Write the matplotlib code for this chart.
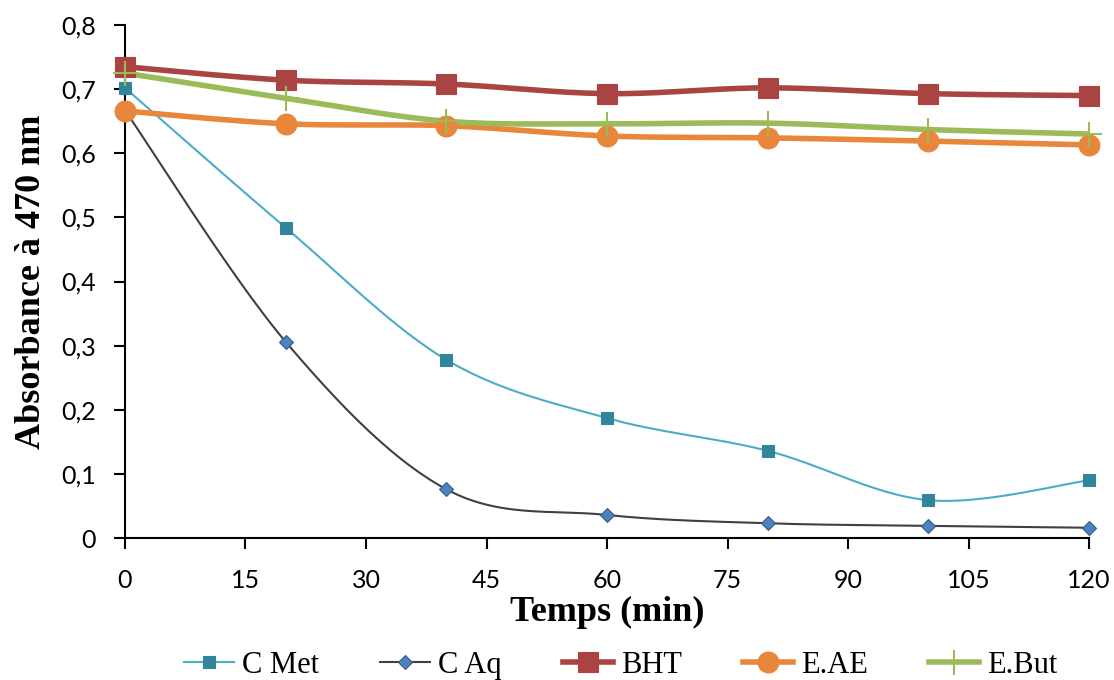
import numpy as np
import matplotlib.pyplot as plt
from matplotlib.ticker import FuncFormatter, MultipleLocator

temps = [0, 20, 40, 60, 80, 100, 120]
c_met = [0.702, 0.484, 0.278, 0.187, 0.136, 0.059, 0.090]
c_aq = [0.667, 0.306, 0.076, 0.036, 0.023, 0.019, 0.016]
bht = [0.735, 0.714, 0.708, 0.693, 0.702, 0.693, 0.690]
e_ae = [0.666, 0.646, 0.643, 0.627, 0.624, 0.619, 0.613]
e_but = [0.725, 0.686, 0.650, 0.646, 0.647, 0.637, 0.630]


def smooth(x, y, n=30):
    # Excel-like smoothed line (Bezier through points, Catmull-Rom tangents)
    x = np.asarray(x, float)
    y = np.asarray(y, float)
    px = np.concatenate([[x[0]], x, [x[-1]]])
    py = np.concatenate([[y[0]], y, [y[-1]]])
    xs, ys = [], []
    t = np.linspace(0, 1, n)
    for i in range(1, len(px) - 2):
        p0 = np.array([px[i], py[i]])
        p3 = np.array([px[i + 1], py[i + 1]])
        c1 = p0 + (np.array([px[i + 1], py[i + 1]]) - np.array([px[i - 1], py[i - 1]])) / 6
        c2 = p3 - (np.array([px[i + 2], py[i + 2]]) - np.array([px[i], py[i]])) / 6
        b = ((1 - t) ** 3)[:, None] * p0 + (3 * (1 - t) ** 2 * t)[:, None] * c1 \
            + (3 * (1 - t) * t ** 2)[:, None] * c2 + (t ** 3)[:, None] * p3
        xs.extend(b[:, 0])
        ys.extend(b[:, 1])
    return xs, ys


fig = plt.figure(figsize=(11.14, 6.8), dpi=100)
ax = fig.add_axes([0.1122, 0.2088, 0.8654, 0.7544])

series = [
    ("C Met", c_met, "#4BACC6", 1.5, "s", 9, "#31859C", "#31859C"),
    ("C Aq", c_aq, "#404040", 1.5, "D", 7, "#4F81BD", "#385D8A"),
    ("BHT", bht, "#A94442", 4, "s", 15, "#A94442", "#A94442"),
    ("E.AE", e_ae, "#E8863C", 4, "o", 15, "#E8863C", "#E8863C"),
    ("E.But", e_but, "#9BBB59", 4, "+", 18, "#9BBB59", "#9BBB59"),
]

for name, vals, col, lw, mk, ms, mfc, mec in series:
    sx, sy = smooth(temps, vals)
    ax.plot(sx, sy, color=col, lw=lw, zorder=2)
    ax.plot(temps, vals, ls="none", marker=mk, ms=ms, mfc=mfc, mec=mec,
            mew=1.5 if mk == "+" else 0.8, zorder=3, clip_on=False)
    ax.plot([], [], color=col, lw=lw, marker=mk, ms=ms, mfc=mfc, mec=mec,
            mew=1.5 if mk == "+" else 0.8, label=name)

ax.set_xlim(0, 120)
ax.set_ylim(0, 0.8)
ax.xaxis.set_major_locator(MultipleLocator(15))
ax.yaxis.set_major_locator(MultipleLocator(0.1))
ax.yaxis.set_major_formatter(FuncFormatter(lambda v, p: ("%.1f" % v).replace(".", ",") if v > 0.001 else "0"))
ax.spines["top"].set_visible(False)
ax.spines["right"].set_visible(False)
ax.spines["left"].set_linewidth(1.5)
ax.spines["bottom"].set_linewidth(1.5)
ax.tick_params(direction="out", length=8, width=1.5, labelsize=18)
ax.tick_params(axis="x", pad=14)
ax.tick_params(axis="y", pad=13)
for lab in ax.get_xticklabels() + ax.get_yticklabels():
    lab.set_family("Lato")

ax.set_xlabel("Temps (min)", family="Liberation Serif", fontweight="bold", fontsize=26, labelpad=3)
ax.set_ylabel("Absorbance à 470 nm", family="Liberation Serif", fontweight="bold", fontsize=26, labelpad=9)

fig.legend(loc="center", ncol=5, frameon=False, bbox_to_anchor=(0.557, 0.022),
           prop={"family": "Liberation Serif", "size": 22}, columnspacing=2.0,
           handlelength=1.65, handletextpad=0.25)

fig.savefig("out.png", dpi=100)
